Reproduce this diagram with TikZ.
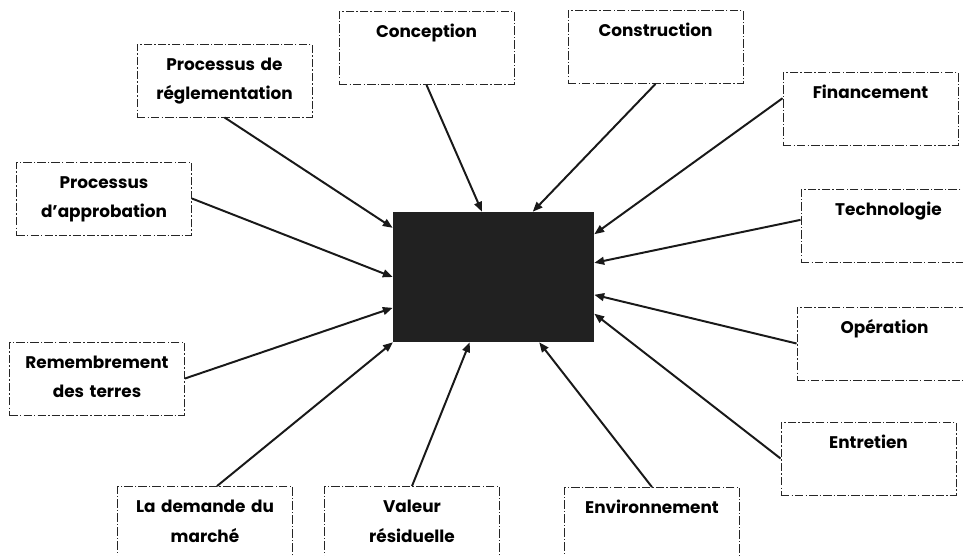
\documentclass[tikz,border=0pt]{standalone}
\usepackage{fontspec}
\setmainfont{Poppins}
\usetikzlibrary{arrows.meta}

\begin{document}
\begin{tikzpicture}[
  x=0.025cm, y=-0.025cm,
  factor/.style={rectangle, draw=black!85, line width=0.6pt,
                 dash pattern=on 6pt off 1.5pt on 1pt off 1.5pt,
                 fill=white, text width=4.375cm, inner xsep=0pt, inner ysep=0pt,
                 align=center, text height=0.65cm, text depth=1.175cm,
                 font=\bfseries\fontsize{12}{21}\selectfont},
  core/.style={rectangle, fill=black!87, minimum width=5.025cm, minimum height=3.25cm,
               inner sep=0pt},
  arr/.style={-{Triangle[length=7pt, width=5.5pt]}, line width=1.4pt, black!90}
]
\clip (0,0) rectangle (963,555);
\fill[white] (0,0) rectangle (963,555);

\node[core] (ctr) at (493.5,277) {};

% top row
\node[factor] (conc)   at (426.5,48)  {Conception};
\node[factor] (constr) at (655.5,47)  {Construction};
\node[factor] (rgl)    at (224.5,80.5) {Processus de\\réglementation};

% left side
\node[factor] (app) at (104,198.5) {Processus\\d'approbation};
\node[factor] (rem) at (97,378.5)  {Remembrement\\des terres};

% bottom row
\node[factor] (dem) at (205,523) {La demande du\\marché};
\node[factor] (val) at (412,523) {Valeur\\résiduelle};
\node[factor] (env) at (652,524) {Environnement};

% right side
\node[factor] (fin)  at (870.5,109) {Financement};
\node[factor] (tech) at (888.5,226) {Technologie};
\node[factor] (op)   at (884.5,343.5) {Opération};
\node[factor] (ent)  at (868.5,458.5) {Entretien};

\draw[arr] (conc.south)   -- (ctr.100);
\draw[arr] (constr.south) -- (ctr.59);
\draw[arr] (fin.173)      -- (ctr.23);
\draw[arr] (tech.176)     -- (ctr.8);
\draw[arr] (rgl.south)    -- (ctr.154);
\draw[arr] (app.east)     -- (ctr.180);
\draw[arr] (rem.east)     -- (ctr.197);
\draw[arr] (dem.72)       -- (ctr.213);
\draw[arr] (val.north)    -- (ctr.250);
\draw[arr] (env.north)    -- (ctr.305);
\draw[arr] (op.west)      -- (ctr.350);
\draw[arr] (ent.west)     -- (ctr.340);

\end{tikzpicture}
\end{document}
